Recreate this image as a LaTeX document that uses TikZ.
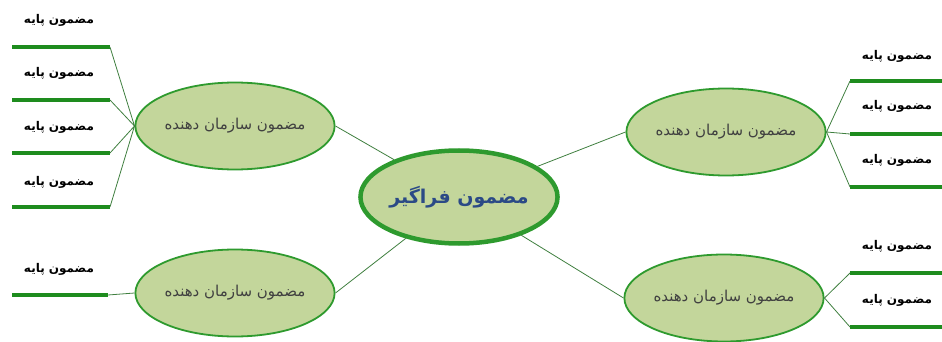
\documentclass[tikz,border=0pt]{standalone}
\usepackage{fontspec}
\newfontfamily\farsi[Script=Arabic]{DejaVu Sans}
\TeXXeTstate=1
\usetikzlibrary{shapes.geometric}

\definecolor{leaf}{HTML}{C3D69B}
\definecolor{rim}{HTML}{2E9A2E}
\definecolor{stem}{HTML}{1E8C1E}
\definecolor{twigc}{HTML}{3F7F3F}
\definecolor{ink}{HTML}{2B4A86}

\newcommand{\fa}[1]{\beginR #1\endR}

\tikzset{
  theme/.style={ellipse, draw=rim, fill=leaf, line width=1.8pt, inner sep=0pt,
    minimum width=198pt, minimum height=87pt,
    font=\farsi\fontsize{15}{18}\selectfont, text=black!75},
  global/.style={theme, line width=4.5pt, minimum width=190pt, minimum height=93pt,
    font=\farsi\bfseries\fontsize{19}{23}\selectfont, text=ink},
  basic/.style={font=\farsi\bfseries\fontsize{12}{14}\selectfont, inner sep=0pt},
  shelf/.style={draw=stem, line width=3.2pt},
  twig/.style={draw=twigc, line width=0.8pt},
}

\begin{document}
\begin{tikzpicture}[x=1pt, y=-1pt]
   \useasboundingbox (0,0) rectangle (942,342);
   % themes
   \node[global] (g) at (459,197) {\fa{مضمون فراگیر}};
   \node[theme] (ul) at (235,126) {\fa{مضمون سازمان دهنده}};
   \node[theme] (ll) at (235,293) {\fa{مضمون سازمان دهنده}};
   \node[theme] (ur) at (726,132) {\fa{مضمون سازمان دهنده}};
   \node[theme] (lr) at (724,298) {\fa{مضمون سازمان دهنده}};

   % links to the global theme
   \draw[twig] (g) -- (ul.east);
   \draw[twig] (g) -- (ll.east);
   \draw[twig] (g) -- (ur.west);
   \draw[twig] (g) -- (lr.west);

   % basic themes, left
   \coordinate (a1) at (12,47);   \coordinate (b1) at (110,47);
   \coordinate (a2) at (12,100);  \coordinate (b2) at (110,100);
   \coordinate (a3) at (12,153);  \coordinate (b3) at (110,153);
   \coordinate (a4) at (12,207);  \coordinate (b4) at (110,207);
   \coordinate (a5) at (12,295);  \coordinate (b5) at (108,295);
   \node[basic] (t1) at (59,20)  {\fa{مضمون پایه}};
   \node[basic] (t2) at (59,73)  {\fa{مضمون پایه}};
   \node[basic] (t3) at (59,127) {\fa{مضمون پایه}};
   \node[basic] (t4) at (59,182) {\fa{مضمون پایه}};
   \node[basic] (t5) at (59,269) {\fa{مضمون پایه}};
   \draw[shelf] (a1) -- (b1);
   \draw[shelf] (a2) -- (b2);
   \draw[shelf] (a3) -- (b3);
   \draw[shelf] (a4) -- (b4);
   \draw[shelf] (a5) -- (b5);
   \draw[twig] (b1) -- (ul.west) -- (b2);
   \draw[twig] (b3) -- (ul.west) -- (b4);
   \draw[twig] (b5) -- (ll.west);

   % basic themes, right
   \coordinate (c1) at (850,81);   \coordinate (d1) at (942,81);
   \coordinate (c2) at (850,134);  \coordinate (d2) at (942,134);
   \coordinate (c3) at (850,187);  \coordinate (d3) at (942,187);
   \coordinate (c4) at (850,273);  \coordinate (d4) at (942,273);
   \coordinate (c5) at (850,327);  \coordinate (d5) at (942,327);
   \node[basic] (s1) at (897,56)  {\fa{مضمون پایه}};
   \node[basic] (s2) at (897,106) {\fa{مضمون پایه}};
   \node[basic] (s3) at (897,160) {\fa{مضمون پایه}};
   \node[basic] (s4) at (897,246) {\fa{مضمون پایه}};
   \node[basic] (s5) at (897,300) {\fa{مضمون پایه}};
   \draw[shelf] (c1) -- (d1);
   \draw[shelf] (c2) -- (d2);
   \draw[shelf] (c3) -- (d3);
   \draw[shelf] (c4) -- (d4);
   \draw[shelf] (c5) -- (d5);
   \draw[twig] (c1) -- (ur.east) -- (c2);
   \draw[twig] (c3) -- (ur.east);
   \draw[twig] (c4) -- (lr.east) -- (c5);
\end{tikzpicture}
\end{document}
